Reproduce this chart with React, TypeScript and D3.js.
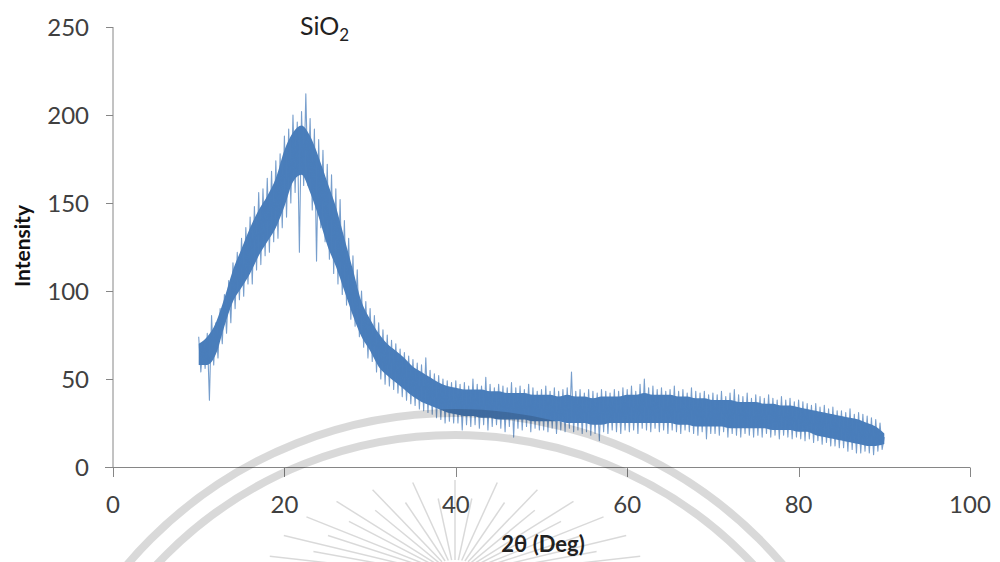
import React from "react";
import * as d3 from "d3";

// ---- data ----
// raw noisy trace (extremes of the noise), sampled every 0.25° from 10°
const xStart = 10;
const xStep = 0.25;
const intensity: number[] = [
  74, 54, 71, 56, 76, 38, 86, 58, 82, 62, 90, 70, 98, 76, 106, 82, 116, 90, 122, 95,
  130, 97, 136, 104, 142, 104, 148, 112, 156, 115, 158, 120, 164, 122, 168, 128, 174, 130, 178, 136,
  188, 142, 192, 150, 200, 156, 196, 122, 202, 160, 212, 160, 198, 146, 192, 117, 186, 136, 180, 128,
  172, 118, 166, 110, 158, 104, 152, 98, 140, 92, 130, 84, 120, 80, 112, 74, 100, 68, 94, 62,
  90, 60, 86, 54, 82, 50, 78, 47, 75, 46, 72, 44, 70, 42, 67, 40, 65, 38, 63, 36,
  61, 35, 59, 33, 58, 32, 62, 31, 55, 30, 53, 28, 52, 27, 50, 25, 49, 26, 48, 25,
  49, 25, 47, 21, 48, 24, 46, 23, 50, 24, 47, 22, 46, 24, 51, 21, 47, 23, 45, 24,
  47, 22, 46, 20, 45, 23, 48, 17, 45, 22, 46, 21, 44, 23, 47, 20, 45, 22, 43, 21,
  44, 21, 46, 20, 43, 22, 45, 19, 43, 21, 44, 20, 45, 22, 54, 20, 43, 21, 44, 19,
  42, 20, 44, 18, 43, 19, 42, 15, 44, 20, 43, 19, 42, 21, 44, 20, 43, 19, 45, 21,
  44, 20, 46, 21, 43, 19, 47, 22, 50, 21, 45, 20, 46, 22, 44, 20, 45, 21, 43, 19,
  44, 21, 46, 20, 43, 19, 44, 21, 42, 20, 45, 19, 43, 18, 42, 20, 43, 16, 41, 19,
  42, 19, 41, 18, 43, 20, 40, 17, 42, 19, 44, 18, 41, 17, 40, 19, 42, 18, 39, 17,
  41, 18, 40, 17, 39, 19, 41, 17, 39, 18, 38, 16, 40, 18, 38, 17, 39, 16, 37, 17,
  38, 16, 37, 15, 36, 16, 35, 14, 36, 15, 34, 13, 35, 14, 33, 12, 34, 12, 32, 11,
  32, 11, 31, 9, 33, 10, 30, 8, 31, 8, 30, 9, 29, 8, 28, 7, 27, 9, 25, 10,
  17,
];
// dense core of the noise band, read per degree from 10° to 90°
const bandStart = 10;
const bandLow: number[] = [
  58, 58, 64, 80, 94, 102, 110, 120, 128, 136,
  148, 162, 166, 156, 142, 126, 114, 100, 86, 74,
  66, 57, 52, 48, 44, 40, 37, 35, 33, 31,
  30, 29, 29, 28, 28, 27, 27, 27, 27, 26,
  26, 26, 26, 25, 25, 25, 24, 24, 25, 25,
  25, 25, 25, 25, 25, 25, 24, 24, 23, 23,
  23, 23, 22, 22, 22, 22, 22, 21, 21, 21,
  20, 20, 18, 17, 16, 15, 14, 13, 12, 12,
  13,
];
const bandHigh: number[] = [
  70, 74, 82, 96, 112, 124, 136, 146, 154, 164,
  180, 190, 194, 188, 176, 162, 148, 130, 112, 94,
  84, 76, 70, 66, 62, 57, 54, 51, 48, 46,
  45, 44, 44, 44, 43, 43, 42, 42, 42, 41,
  41, 41, 40, 41, 40, 40, 39, 40, 40, 40,
  41, 41, 42, 41, 41, 41, 40, 40, 39, 39,
  38, 38, 38, 37, 37, 37, 36, 36, 35, 35,
  34, 33, 32, 31, 30, 29, 28, 27, 25, 23,
  19,
];
const xTicks = [0, 20, 40, 60, 80, 100];
const yTicks = [0, 50, 100, 150, 200, 250];
const xDomain = [0, 100];
const yDomain = [0, 250];

const W = 1000;
const H = 562;
const FONT = "Lato, 'Open Sans', sans-serif";

export default function App() {
  const x = d3.scaleLinear().domain(xDomain).range([113, 970]);
  const y = d3.scaleLinear().domain(yDomain).range([467, 27]);
  const pts = intensity.map((v, i) => [xStart + i * xStep, v] as [number, number]);
  const band = bandLow.map((lo, i) => ({ t: bandStart + i, lo, hi: bandHigh[i] }));
  const line = d3
    .line<[number, number]>()
    .x((d) => x(d[0]))
    .y((d) => y(d[1]));
  const area = d3
    .area<{ t: number; lo: number; hi: number }>()
    .x((d) => x(d.t))
    .y0((d) => y(d.lo))
    .y1((d) => y(d.hi))
    .curve(d3.curveMonotoneX);

  const axisColor = "#868686";
  const textColor = "#404040";
  const blue = "#4a7ebb";

  // watermark (decorative seal)
  const wmCx = 455;
  const wmCy = 843;
  const rayCx = 455;
  const rayCy = 578;
  const rayAngles = d3.range(0, 29).map((i) => Math.PI + (i / 28) * Math.PI);

  return (
    <svg
      width={W}
      height={H}
      style={{ position: "absolute", left: 0, top: 0, background: "#fff" }}
    >
      {/* axes */}
      <line x1={113} x2={113} y1={y(250)} y2={467.5} stroke={axisColor} strokeWidth={1} />
      <line x1={105} x2={x(100)} y1={467.5} y2={467.5} stroke={axisColor} strokeWidth={1} />
      {yTicks.map((t) => (
        <g key={"y" + t}>
          <line x1={106} x2={113} y1={Math.round(y(t)) + 0.5} y2={Math.round(y(t)) + 0.5} stroke={axisColor} />
          <text
            x={89}
            y={y(t) + 8.5}
            textAnchor="end"
            fontFamily={FONT}
            fontSize={24}
            fill={textColor}
          >
            {t}
          </text>
        </g>
      ))}
      {xTicks.map((t) => (
        <g key={"x" + t}>
          <line x1={Math.round(x(t)) + 0.5} x2={Math.round(x(t)) + 0.5} y1={467.5} y2={477} stroke={axisColor} />
          <text
            x={x(t)}
            y={513}
            textAnchor="middle"
            fontFamily={FONT}
            fontSize={24}
            fill={textColor}
          >
            {t}
          </text>
        </g>
      ))}

      {/* data */}
      <path d={area(band) || ""} fill={blue} stroke="none" />
      <path
        d={line(pts) || ""}
        fill="none"
        stroke={blue}
        strokeOpacity={0.75}
        strokeWidth={1.1}
        strokeLinejoin="round"
      />

      {/* titles */}
      <text x={300} y={35} fontFamily={FONT} fontSize={25} fill="#222">
        SiO<tspan fontSize={17} dy={6}>2</tspan>
      </text>
      <text
        transform="translate(30,246) rotate(-90)"
        textAnchor="middle"
        fontFamily={FONT}
        fontWeight="bold"
        fontSize={21}
        fill="#111"
      >
        Intensity
      </text>
      <text
        x={543}
        y={552}
        textAnchor="middle"
        fontFamily={FONT}
        fontWeight="bold"
        fontSize={22}
        fill="#222"
      >
        2θ (Deg)
      </text>

      {/* watermark overlay */}
      <g fill="none" stroke="#000" strokeOpacity={0.15}>
        <circle cx={wmCx} cy={wmCy} r={430} strokeWidth={8} />
        <circle cx={wmCx} cy={wmCy} r={408} strokeWidth={8} />
        {rayAngles.map((a, i) => {
          const long = i % 2 === 0;
          const rx = long ? 190 : 150;
          const ry = long ? 98 : 80;
          return (
            <line
              key={"r" + i}
              x1={rayCx + Math.cos(a) * 30}
              y1={rayCy + Math.sin(a) * 18}
              x2={rayCx + Math.cos(a) * rx}
              y2={rayCy + Math.sin(a) * ry}
              strokeWidth={1.5}
              strokeOpacity={0.15}
            />
          );
        })}
      </g>
    </svg>
  );
}
